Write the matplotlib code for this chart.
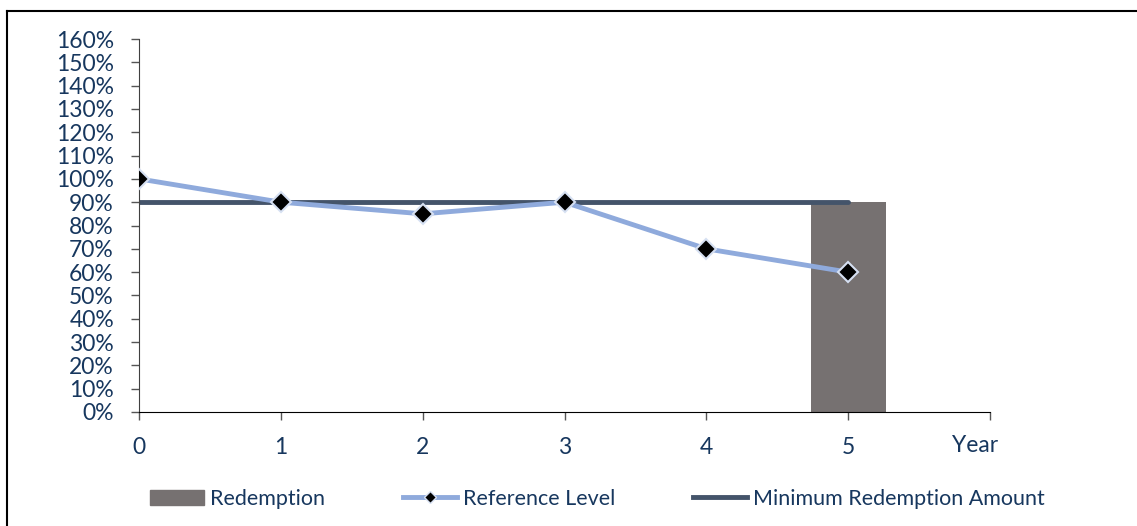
import matplotlib.pyplot as plt
from matplotlib.lines import Line2D
from matplotlib.patches import Patch

# data
years = [0, 1, 2, 3, 4, 5]
reference_level = [1.00, 0.90, 0.85, 0.90, 0.70, 0.60]
min_redemption = [0.90, 0.90, 0.90, 0.90, 0.90, 0.90]
redemption_year = [5]
redemption_value = [0.90]
y_ticks = [i / 10 for i in range(17)]

text_col = "#17375E"
bar_col = "#767171"
ref_col = "#8FAADC"
min_col = "#44546A"

plt.rcParams["font.family"] = ["Lato", "DejaVu Sans"]

fig = plt.figure(figsize=(11.37, 5.26), dpi=100)
ax = fig.add_axes([139 / 1137, 1 - 412 / 526, (990 - 139) / 1137, (412 - 39) / 526])

ax.bar(redemption_year, redemption_value, width=0.53, color=bar_col, zorder=1)
ax.plot(years, min_redemption, color=min_col, lw=3.5, solid_capstyle="round", zorder=2)
ax.plot(years, reference_level, color=ref_col, lw=3.5, marker="D", ms=10,
        mfc="black", mec="#D6E0F2", mew=1.5, zorder=3)

ax.set_xlim(0, 6)
ax.set_ylim(0, 1.6)
ax.set_xticks(range(7))
ax.set_xticklabels([str(y) for y in years] + [""])
ax.set_yticks(y_ticks)
ax.set_yticklabels([f"{int(round(t * 100))}%" for t in y_ticks])

for s in ["top", "right"]:
    ax.spines[s].set_visible(False)
ax.spines["left"].set_color("#404040")
ax.spines["bottom"].set_color("black")
ax.tick_params(axis="y", direction="out", length=6, width=1, color="#555555",
               labelsize=16.5, labelcolor=text_col, pad=12)
ax.tick_params(axis="x", direction="out", length=6, width=1, color="#555555",
               labelsize=16.5, labelcolor=text_col, pad=12)

ax.annotate("Year", xy=(6, 0), xycoords="data", xytext=(-11, -24),
            textcoords="offset points", ha="center", va="center",
            fontsize=16.5, color=text_col)

handles = [
    Patch(color=bar_col),
    Line2D([], [], color=ref_col, lw=3.5, marker="D", ms=6, mfc="black", mec="#D6E0F2"),
    Line2D([], [], color=min_col, lw=3.5),
]
labels = ["Redemption", "Reference Level", "Minimum Redemption Amount"]
fig.legend(handles, labels, loc="center", bbox_to_anchor=(0.5255, 1 - 499 / 526),
           ncol=3, frameon=False, fontsize=15.5, labelcolor=text_col,
           handlelength=2.5, handletextpad=0.3, columnspacing=3.6)

# outer frame
fig.add_artist(Line2D([7 / 1137, 7 / 1137], [0, 1 - 11 / 526], transform=fig.transFigure,
                      color="black", lw=1.5))
fig.add_artist(Line2D([7 / 1137, 1], [1 - 11 / 526, 1 - 11 / 526], transform=fig.transFigure,
                      color="black", lw=1.5))

fig.savefig("out.png", dpi=100)
